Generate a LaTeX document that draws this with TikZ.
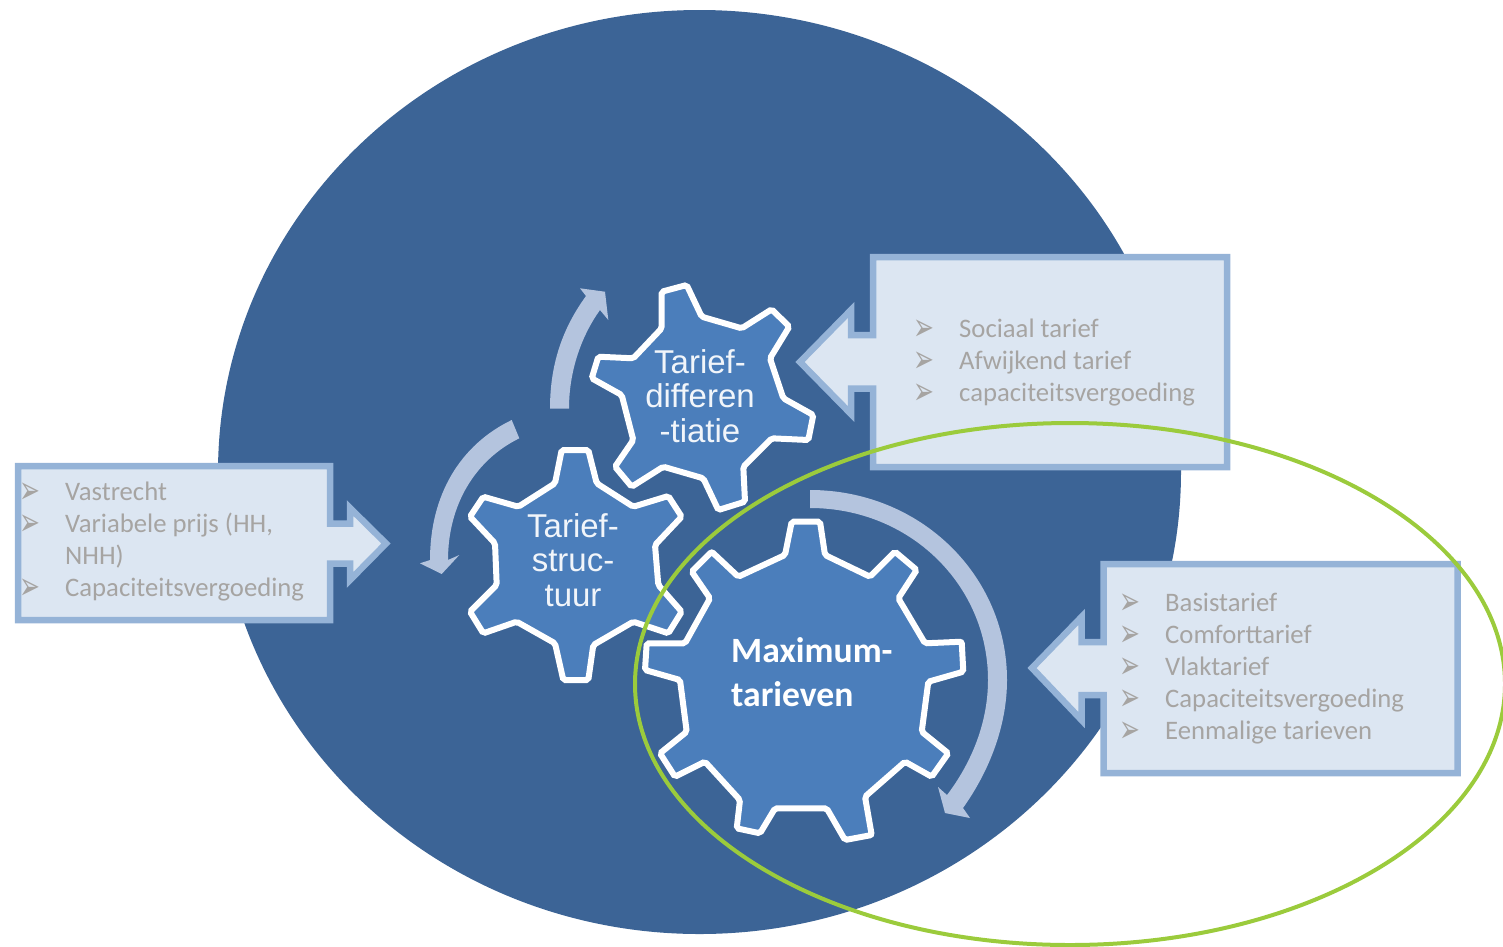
\documentclass[tikz,border=0pt]{standalone}
\usepackage{fontspec}
\setmainfont{Carlito}
\newfontfamily\gearfont{Liberation Sans}
\newfontfamily\bulletfont{DejaVu Sans}
\usetikzlibrary{positioning}
\definecolor{discblue}{HTML}{3C6496}
\definecolor{gearblue}{HTML}{4B7EBB}
\definecolor{boxfill}{HTML}{DCE6F2}
\definecolor{boxedge}{HTML}{95B3D7}
\definecolor{turnblue}{HTML}{B4C4DE}
\definecolor{itemgray}{HTML}{A6A4A2}
\definecolor{limeline}{HTML}{9BCB3C}
\newcommand{\bul}{\makebox[42pt][l]{\hspace*{-3.5pt}\smash{\raisebox{-3.5pt}{\scalebox{1}[1.55]{\bulletfont\fontsize{25}{25}\selectfont\char"27A2}}}}}
\tikzset{
  every node/.append style={inner sep=0pt},
  callout/.style={draw=boxedge, fill=boxfill, line width=6.5pt, line join=miter},
  gearwheel/.style={draw=white, fill=gearblue, line width=6pt, rounded corners=2pt},
  turn/.style={fill=turnblue},
  item/.style={anchor=base west, text=itemgray, font=\fontsize{26.7}{26.7}\selectfont}
}
\begin{document}
\begin{tikzpicture}[
  x=1pt, y=-1pt,
  gearlabel/.style={align=center, text=white!92!gearblue, font=\gearfont\fontsize{33}{34.5}\selectfont},
  mainlabel/.style={align=left, text=white, font=\bfseries\fontsize{35.6}{44}\selectfont}
]
\useasboundingbox (0,0) rectangle (1503,946);

% disc behind everything
\fill[discblue] (699.5,472) ellipse [x radius=481.5, y radius=462];

% text boxes with their arrows
\draw[callout] (873,257) -- (1227,257) -- (1227,467) -- (873,467) -- (873,388.5) -- (851,388.5)
  -- (851,414) -- (800,362) -- (851,310) -- (851,335) -- (873,335) -- cycle;
\draw[callout] (330,466) -- (18,466) -- (18,620) -- (330,620) -- (330,563.5) -- (350,563.5)
  -- (350,580) -- (386,543.5) -- (350,508) -- (350,523.5) -- (330,523.5) -- cycle;
\draw[callout] (1103.5,564) -- (1457.5,564) -- (1457.5,773) -- (1103.5,773) -- (1103.5,695) -- (1081.5,695)
  -- (1081.5,720) -- (1032,668) -- (1081.5,617) -- (1081.5,642) -- (1103.5,642) -- cycle;

\node[item] (sociaal)  at (917,337) {\bul Sociaal tarief};
\node[item] (afwijkend) at (917,369) {\bul Afwijkend tarief};
\node[item] (capsoc)   at (917,401) {\bul capaciteitsvergoeding};

\node[item] (vastrecht) at (23,500) {\bul Vastrecht};
\node[item] (variabel) at (23,532) {\bul Variabele prijs (HH,};
\node[item] (nhh)      at (65,564) {NHH)};
\node[item] (capstr)   at (23,596) {\bul Capaciteitsvergoeding};

\node[item] (basis)    at (1123,611) {\bul Basistarief};
\node[item] (comfort)  at (1123,643) {\bul Comforttarief};
\node[item] (vlak)     at (1123,675) {\bul Vlaktarief};
\node[item] (capmax)   at (1123,707) {\bul Capaciteitsvergoeding};
\node[item] (eenmalig) at (1123,739) {\bul Eenmalige tarieven};

% turning arrows
\fill[turn] (550,408.5) .. controls (550,360) and (565,325) .. (586,296) -- (580,288.3) -- (605,291.7)
  -- (608.3,320) -- (600,310) .. controls (582,335) and (569,370) .. (569,408.5) -- cycle;
\fill[turn] (511.7,420) .. controls (460,445) and (430,495) .. (430,560) -- (420,563.3) -- (441.7,574)
  -- (459.3,555) -- (448,560) .. controls (448,505) and (475,460) .. (519.3,438.3) -- cycle;
\fill[turn] (810,490) .. controls (920,490) and (1007,575) .. (1007,680) .. controls (1007,725) and (990,770) .. (963,808)
  -- (970,818) -- (945,813) -- (938,787) -- (947,795) .. controls (972,762) and (988,722) .. (988,680)
  .. controls (988,585) and (910,508) .. (810,508) -- cycle;

% gears
\draw[gearwheel] (661.7,291.7) -- (686.7,285) -- (701.7,316.7) -- (741.7,328.3) -- (771.7,309.3) -- (789.3,326.7)
  -- (770,358.3) -- (783.3,398.3) -- (813.3,415) -- (808.3,440) -- (771.7,438.3) -- (743.3,466.7) -- (745,501.7)
  -- (718.3,510) -- (703.3,478.3) -- (663.3,466.7) -- (631.7,486.7) -- (615,466.7) -- (633.3,440) -- (621.7,395)
  -- (591.7,378.3) -- (598.3,356.7) -- (633.3,358.3) -- (661.7,328.3) -- cycle;
\draw[gearwheel] (561.7,450) -- (588.3,450) -- (596.7,483.3) -- (633.3,506.7) -- (668.3,496) -- (681.7,516.7)
  -- (655,545) -- (658.3,585) -- (681.7,611.7) -- (668.3,633.3) -- (633.3,621.7) -- (593.3,645) -- (588.3,680)
  -- (563.3,680) -- (555,643.3) -- (516.7,621.7) -- (483.3,633.3) -- (470,611.7) -- (496.7,585) -- (495,543.3)
  -- (470,516.7) -- (483.3,496.7) -- (518.3,506.7) -- (555,483.3) -- cycle;
\draw[gearwheel] (791.7,521.7) -- (820,521.7) -- (825,555) -- (870,576.7) -- (895,551.7) -- (916.7,570)
  -- (898.3,598.3) -- (925,643.3) -- (961.7,641.7) -- (963.3,671.7) -- (928.3,681.7) -- (921.7,731.7) -- (948.3,753.3)
  -- (931.7,776.7) -- (905,761.7) -- (865,796.7) -- (871.7,835) -- (845,840) -- (826.7,808.3) -- (775,808.3)
  -- (760,833.3) -- (736.7,828.3) -- (740,800) -- (705,761.7) -- (675,776.7) -- (660,753.3) -- (686.7,731.7)
  -- (680,680) -- (645,670) -- (646.7,643.3) -- (685,643.3) -- (710,598.3) -- (691.7,571.7) -- (711.7,551.7)
  -- (738.3,576.7) -- (785,555) -- cycle;

\node[gearlabel] (differentiatie) at (700,396) {Tarief-\\differen\\-tiatie};
\node[gearlabel] (structuur) at (573,560) {Tarief-\\struc-\\tuur};
\node[mainlabel, anchor=north west] (maximum) at (731,637) {Maximum-\\tarieven};

% green ring on top
\draw[limeline, line width=4pt] (1070,684) ellipse [x radius=435, y radius=261];

\end{tikzpicture}
\end{document}
